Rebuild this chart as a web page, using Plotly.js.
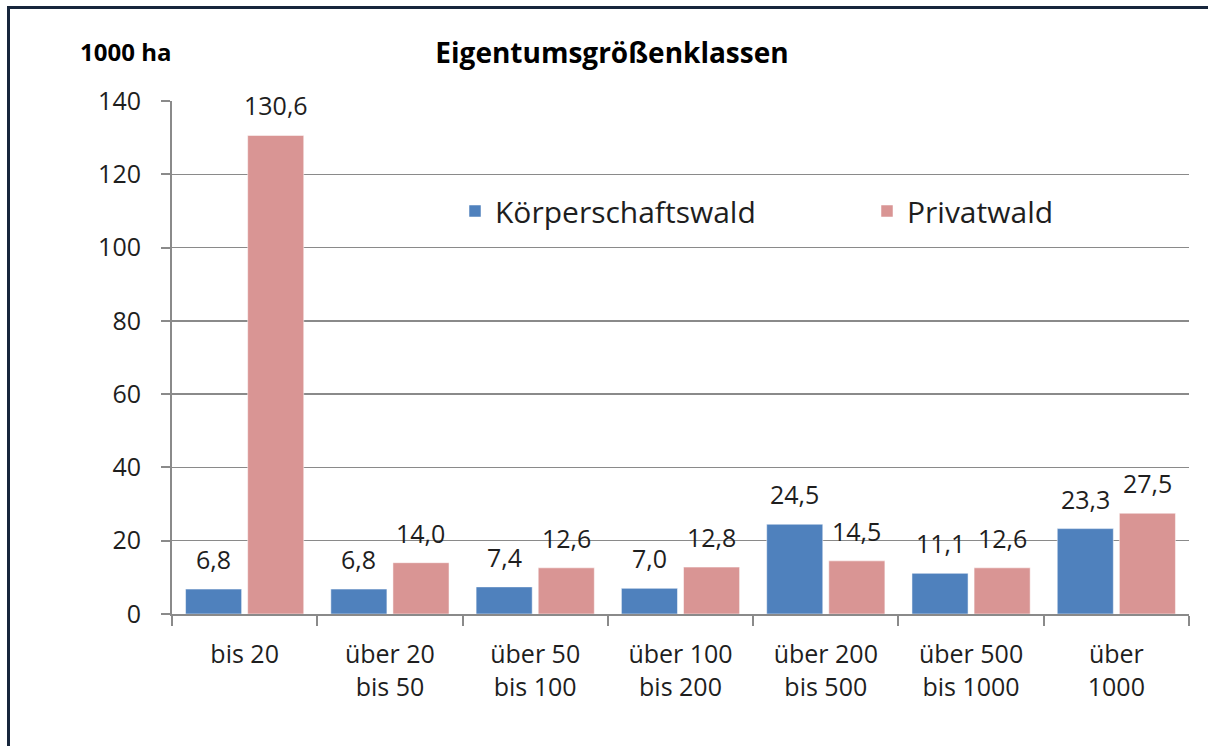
<!DOCTYPE html>
<html>
<head>
<meta charset="utf-8">
<script src="https://cdn.plot.ly/plotly-3.0.1.min.js"></script>
<style>html,body{margin:0;padding:0;background:#fff;}#chart{width:1208px;height:746px;}</style>
</head>
<body>
<div id="chart"></div>
<script>
var categories = ["bis 20", "über 20<br>bis 50", "über 50<br>bis 100", "über 100<br>bis 200", "über 200<br>bis 500", "über 500<br>bis 1000", "über<br>1000"];
var koerperschaftswald = [6.8, 6.8, 7.4, 7.0, 24.5, 11.1, 23.3];
var privatwald = [130.6, 14.0, 12.6, 12.8, 14.5, 12.6, 27.5];
var seriesNames = ["Körperschaftswald", "Privatwald"];
var yTicks = [0, 20, 40, 60, 80, 100, 120, 140];

var W = 1208, H = 746;
var mL = 172, mR = 19, mT = 101, mB = 132;
var pw = W - mL - mR, ph = H - mT - mB;
function px(x){ return (x - mL) / pw; }
function py(y){ return (H - mB - y) / ph; }

var FONT = "Open Sans, Liberation Sans, sans-serif";
var TXT = "#1e1e1e";

var traces = [
  {type: "bar", name: seriesNames[0], x: categories, y: koerperschaftswald, legendwidth: 367,
   marker: {color: "#4F81BD", line: {color: "rgba(255,255,255,0.5)", width: 1}}, hoverinfo: "skip"},
  {type: "bar", name: seriesNames[1], x: categories, y: privatwald,
   marker: {color: "#D99594", line: {color: "rgba(255,255,255,0.5)", width: 1}}, hoverinfo: "skip"}
];

function fmt(v){ return v.toFixed(1).replace(".", ","); }

var annotations = [];
[koerperschaftswald, privatwald].forEach(function(arr, si){
  arr.forEach(function(v, i){
    annotations.push({x: categories[i], y: v, xref: "x", yref: "y", text: fmt(v),
      showarrow: false, xshift: si === 0 ? -31 : 31, yshift: 30, yanchor: "middle", xanchor: "center",
      font: {family: FONT, size: 25, color: TXT}});
  });
});
annotations.push({x: px(78), y: py(52), xref: "paper", yref: "paper", xanchor: "left", yanchor: "middle",
  text: "<b>1000 ha</b>", showarrow: false, font: {family: FONT, size: 24, color: "#000"}});

var layout = {
  width: W, height: H,
  margin: {l: mL, r: mR, t: mT, b: mB, pad: 0},
  paper_bgcolor: "#fff", plot_bgcolor: "#fff",
  title: {text: "<b>Eigentumsgrößenklassen</b>", x: 612 / W, xanchor: "center", xref: "container",
    y: 1 - 53 / H, yanchor: "middle", yref: "container", font: {family: FONT, size: 28, color: "#000"}},
  barmode: "group", bargap: 0.145, bargroupgap: 0.097,
  showlegend: true,
  legend: {orientation: "h", x: px(455), y: py(211), xanchor: "left", yanchor: "middle",
    bgcolor: "rgba(0,0,0,0)",
    font: {family: FONT, size: 30, color: TXT}},
  xaxis: {type: "category", showgrid: false, showline: true, linecolor: "#8a8a8a", linewidth: 2,
    ticks: "outside", tickson: "boundaries", ticklen: 10, tickwidth: 2, tickcolor: "#8a8a8a",
    ticklabelstandoff: 17, tickfont: {family: FONT, size: 25, color: TXT}, fixedrange: true},
  yaxis: {range: [0, 140], tickvals: yTicks, ticktext: yTicks.map(String), showgrid: true, gridcolor: "#8a8a8a", gridwidth: 1.5,
    showline: true, linecolor: "#8a8a8a", linewidth: 2, ticks: "outside", ticklen: 9, tickwidth: 2, tickcolor: "#8a8a8a",
    ticklabelstandoff: 15, zeroline: false, tickfont: {family: FONT, size: 25, color: TXT}, fixedrange: true},
  annotations: annotations,
  shapes: [
    {type: "line", xref: "paper", yref: "paper", x0: px(8.5), x1: px(8.5), y0: py(H + 5), y1: py(6), line: {color: "#17263C", width: 3}},
    {type: "line", xref: "paper", yref: "paper", x0: px(7), x1: px(W + 5), y0: py(7.5), y1: py(7.5), line: {color: "#17263C", width: 3}}
  ]
};

Plotly.newPlot("chart", traces, layout, {staticPlot: true, displayModeBar: false});
</script>
</body>
</html>
